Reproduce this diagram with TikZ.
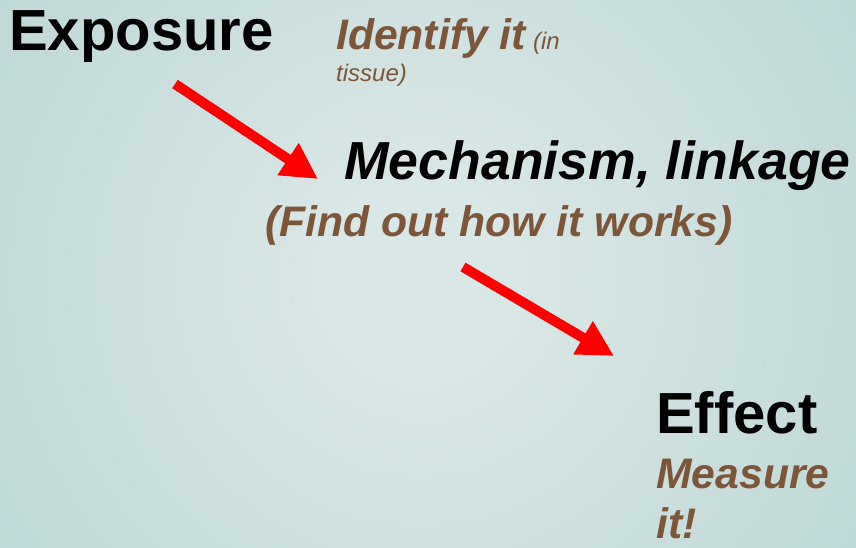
\documentclass[tikz,border=0pt]{standalone}
\usepackage{fontspec}
\setmainfont{Liberation Sans}
\usetikzlibrary{arrows.meta}

\definecolor{bgin}{HTML}{D9E7E6}
\definecolor{bgout}{HTML}{9DC4C2}
\definecolor{note}{HTML}{7D5538}
\definecolor{arrowred}{HTML}{FF0000}

\pgfdeclareradialshading{slideback}{\pgfpoint{0bp}{0bp}}{%
  color(0bp)=(bgin); color(5bp)=(bgin); color(50bp)=(bgout)}

\tikzset{
  title/.style={anchor=base west, inner sep=0pt, text=black,
    font=\fontsize{58}{60}\selectfont\bfseries},
  subtitle/.style={anchor=base west, inner sep=0pt, text=black,
    font=\fontsize{53.6}{60}\selectfont\bfseries\itshape},
  hint/.style={anchor=base west, inner sep=0pt, text=note, align=left,
    font=\fontsize{42.7}{50}\selectfont\bfseries\itshape},
  smallhint/.style={anchor=base west, inner sep=0pt, text=note,
    font=\fontsize{24}{31}\selectfont\itshape},
  flow/.style={draw=arrowred, line width=10pt, line cap=butt,
    -{Triangle[length=36pt, width=36pt]}},
}

\begin{document}
\begin{tikzpicture}[x=1pt, y=-1pt]
  % background: teal edges with a light centre
  \useasboundingbox (0,0) rectangle (856,547);
  \begin{scope}
    \clip (0,0) rectangle (856,547);
    \fill[bgout] (0,0) rectangle (856,547);
    \shade[shading=slideback] (420,280) circle (520);
  \end{scope}

  % texts
  \node[title] (exposure) at (9,50) {Exposure};
  \node[hint] (identify) at (336,49) {Identify it};
  \node[smallhint] (in) at (identify.base east) {\ (in};
  \node[smallhint] (tissue) at (336,81) {tissue)};

  \node[subtitle] (mechanism) at (344,179) {Mechanism, linkage};
  \node[hint] (findout) at (265,236) {(Find out how it works)};

  \node[title] (effect) at (656,433) {Effect};
  % two-line node: its base anchor sits on the last line
  \node[hint] (measure) at (656,538) {Measure\\it!};

  % arrows
  \coordinate (a1s) at (175,84);
  \coordinate (a1e) at (318,179);
  \coordinate (a2s) at (463,267);
  \coordinate (a2e) at (614,356);
  \draw[flow] (a1s) -- (a1e);
  \draw[flow] (a2s) -- (a2e);
\end{tikzpicture}
\end{document}
